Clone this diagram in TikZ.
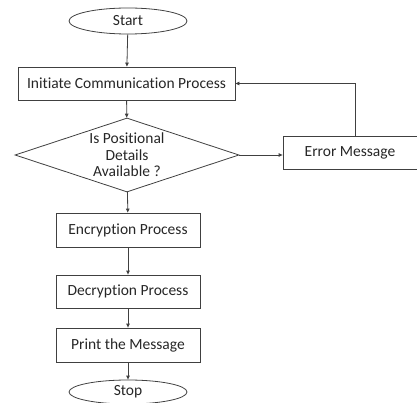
\documentclass[tikz,border=0pt]{standalone}
\usepackage{fontspec}
\setmainfont[Ligatures={NoCommon}]{Carlito}
\usetikzlibrary{shapes.geometric,arrows.meta}
\begin{document}
\begin{tikzpicture}[x=1pt,y=-1pt,
  every node/.style={font=\fontsize{15.5}{16.5}\selectfont, text=black!85},
  proc/.style={draw=black!75, line width=0.8pt, rectangle, minimum height=33pt, inner sep=0pt},
  term/.style={draw=black!75, line width=0.8pt, ellipse, minimum width=118pt, minimum height=26pt, inner sep=0pt},
  dec/.style={draw=black!75, line width=0.8pt, diamond, minimum width=224pt, minimum height=74pt, inner sep=0pt},
  arr/.style={draw=black!75, line width=0.8pt, -{Triangle[length=4pt,width=3.5pt]}}]
\useasboundingbox (0,0) rectangle (417,403);
\node[term] (start) at (128,21) {Start};
\node[proc, minimum width=217pt] (init) at (126.5,83.5) {Initiate Communication Process};
\node[dec] (q) at (127,155) {};
\node[align=center, inner sep=0pt] (qtext) at (q.center) {Is Positional\\Details\\Available ?};
\node[proc, minimum width=134pt] (err) at (350,152.5) {Error Message};
\node[proc, minimum width=144pt, minimum height=34pt] (enc) at (128,230) {Encryption Process};
\node[proc, minimum width=144pt] (decr) at (128,291.5) {Decryption Process};
\node[proc, minimum width=144pt, minimum height=34pt] (prt) at (128,345) {Print the Message};
\node[term, minimum height=24pt] (stop) at (128,392) {Stop};
\coordinate (corner) at (355,83.5);
\draw[arr] (start) -- (init);
\draw[arr] (init) -- (q);
\draw[arr] (q.east) -- (err.west |- q.east);
\draw[arr] (err.north -| corner) -- (corner) -- (init.east);
\draw[arr] (q) -- (enc);
\draw[arr] (enc) -- (decr);
\draw[arr] (decr) -- (prt);
\draw[arr] (prt) -- (stop);
\end{tikzpicture}
\end{document}
